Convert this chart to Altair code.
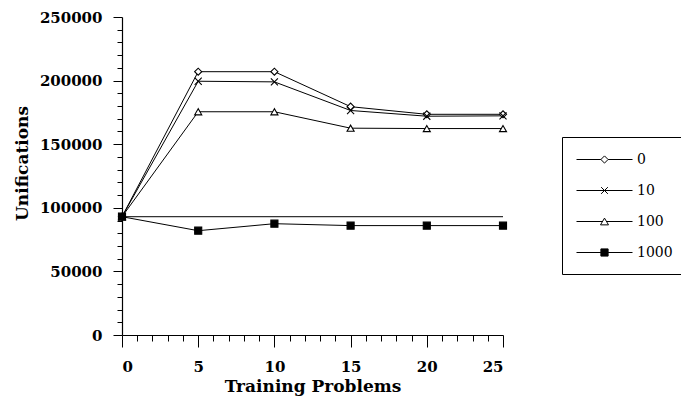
import altair as alt
import pandas as pd

# Unifications versus number of training problems, one series per setting
problems = [0, 5, 10, 15, 20, 25]
series_names = ["0", "10", "100", "1000"]
unif_0 = [93000, 207000, 207000, 179500, 173500, 173500]
unif_10 = [93000, 199500, 199000, 176500, 172000, 172300]
unif_100 = [93000, 175500, 175500, 162600, 162300, 162300]
unif_1000 = [93000, 82000, 87500, 86000, 86000, 86000]

# flat reference level drawn across the whole range
baseline_x = [0, 25]
baseline_y = [93000, 93000]

y_ticks = list(range(0, 250001, 10000))
x_ticks = list(range(0, 26))

rows = []
for name, vals in zip(series_names, [unif_0, unif_10, unif_100, unif_1000]):
    for p, v in zip(problems, vals):
        rows.append({"problem": p, "unifications": v, "series": name})
df = pd.DataFrame(rows)
base_df = pd.DataFrame({"problem": baseline_x, "unifications": baseline_y})

FONT = "DejaVu Serif"

x_enc = alt.X(
    "problem:Q",
    scale=alt.Scale(domain=[0, 25], nice=False),
    axis=alt.Axis(
        title="Training Problems",
        values=x_ticks,
        labelExpr="datum.value % 5 === 0 ? datum.label : ''",
        labelOverlap=False,
        tickSize={"condition": {"test": "datum.value % 5 === 0", "value": 12}, "value": 6},
        labelPadding=12,
        grid=False,
        titleY=56,
        titleBaseline="alphabetic",
    ),
)
y_enc = alt.Y(
    "unifications:Q",
    scale=alt.Scale(domain=[0, 250000], nice=False),
    axis=alt.Axis(
        title="Unifications",
        values=y_ticks,
        labelExpr="datum.value % 50000 === 0 ? datum.label : ''",
        labelOverlap=False,
        format="d",
        tickSize={"condition": {"test": "datum.value % 50000 === 0", "value": 9}, "value": 5},
        labelPadding=11,
        grid=False,
        titleX=-95,
        titleY=146,
        titleAlign="center",
        titleBaseline="alphabetic",
    ),
)

# plot markers
chart_shapes = ["diamond", "M-1,-1L1,1M-1,1L1,-1", "triangle-up", "square"]
fills = ["white", "white", "white", "black"]
strokes = ["black", "black", "black", "black"]

# legend symbols: a long line with the marker in its middle
legend_shapes = [
    "M-3.5,0H-0.45M0.45,0H3.5M0,-0.45L0.45,0L0,0.45L-0.45,0Z",
    "M-3.5,0H3.5M-0.42,-0.42L0.42,0.42M-0.42,0.42L0.42,-0.42",
    "M-3.5,0H-0.25M0.25,0H3.5M0,-0.42L0.5,0.42L-0.5,0.42Z",
    "M-3.5,0H-0.45M0.45,0H3.5M-0.45,-0.45H0.45V0.45H-0.45Z",
]

baseline = alt.Chart(base_df).mark_line(color="black", strokeWidth=1).encode(x=x_enc, y=y_enc)

lines = alt.Chart(df).mark_line(color="black", strokeWidth=1).encode(
    x=x_enc, y=y_enc, detail="series:N"
)

points = alt.Chart(df).mark_point(stroke="black", strokeWidth=1.1, opacity=1, size=50).encode(
    x=x_enc,
    y=y_enc,
    shape=alt.Shape("series:N", scale=alt.Scale(domain=series_names, range=chart_shapes), legend=None),
    fill=alt.Fill("series:N", scale=alt.Scale(domain=series_names, range=fills), legend=None),
)

leg = alt.Legend(
    title=None,
    orient="none",
    legendX=440,
    legendY=120,
    strokeColor="black",
    padding=14,
    symbolSize=256,
    symbolOffset=20,
    symbolStrokeColor="black",
    symbolStrokeWidth=1,
    rowPadding=15,
    labelOffset=24,
    labelFont=FONT,
    labelFontSize=14,
    labelColor="black",
)

legend_layer = alt.Chart(df).transform_filter("false").mark_point(
    strokeWidth=1, opacity=1
).encode(
    x=x_enc,
    y=y_enc,
    shape=alt.Shape("series:N", scale=alt.Scale(domain=series_names, range=legend_shapes), legend=leg),
    fill=alt.Fill("series:N", scale=alt.Scale(domain=series_names, range=fills), legend=leg),
    stroke=alt.Stroke("series:N", scale=alt.Scale(domain=series_names, range=strokes), legend=leg),
)

chart = (
    alt.layer(baseline, lines, points, legend_layer)
    .resolve_scale(shape="independent", fill="independent", stroke="independent")
    .properties(
        width=381,
        height=318,
        padding={"left": 122, "top": 17, "right": 178, "bottom": 63},
        autosize=alt.AutoSizeParams(type="none"),
        background="white",
    )
    .configure_view(stroke=None)
    .configure_axis(
        domainColor="black",
        domainWidth=1.2,
        tickColor="black",
        tickWidth=1,
        labelColor="black",
        labelFont=FONT,
        labelFontSize=15,
        labelFontWeight="bold",
        titleColor="black",
        titleFont=FONT,
        titleFontSize=17,
        titleFontWeight="bold",
    )
)

chart.save("out.html", embed_options={"renderer": "svg", "actions": False})
